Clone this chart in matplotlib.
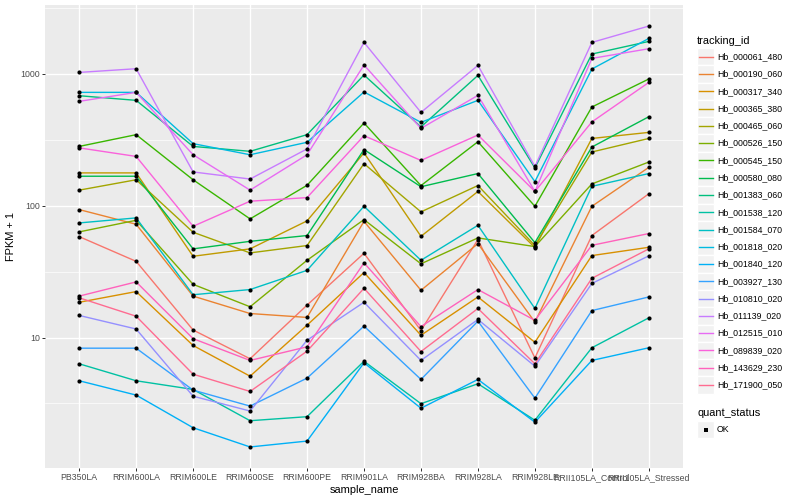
import numpy as np
import matplotlib
matplotlib.use("Agg")
import matplotlib.pyplot as plt
from matplotlib.patches import Rectangle

plt.rcParams['font.family'] = ['Liberation Sans', 'DejaVu Sans']

samples = ["PB350LA", "RRIM600LA", "RRIM600LE", "RRIM600SE", "RRIM600PE", "RRIM901LA",
           "RRIM928BA", "RRIM928LA", "RRIM928LE", "RRII105LA_Control", "RRII105LA_Stressed"]

tracking_ids = ["Hb_000061_480", "Hb_000190_060", "Hb_000317_340", "Hb_000365_380",
                "Hb_000465_060", "Hb_000526_150", "Hb_000545_150", "Hb_000580_080",
                "Hb_001383_060", "Hb_001538_120", "Hb_001584_070", "Hb_001818_020",
                "Hb_001840_120", "Hb_003927_130", "Hb_010810_020", "Hb_011139_020",
                "Hb_012515_010", "Hb_089839_020", "Hb_143629_230", "Hb_171900_050"]

# ggplot default hue palette for 20 levels
colors = ["#F8766D", "#EA8331", "#D89000", "#C09B00", "#A3A500", "#7CAE00", "#39B600",
          "#00BB4E", "#00BF7D", "#00C1A3", "#00BFC4", "#00BAE0", "#00B0F6", "#35A2FF",
          "#9590FF", "#C77CFF", "#E76BF3", "#FA62DB", "#FF62BC", "#FF6C91"]

# FPKM + 1, one list per gene, in sample order
hb_000061_480 = [58.2, 37.8, 11.4, 6.9, 17.6, 43.5, 11.3, 55.3, 7.0, 59.3, 123]
hb_000190_060 = [93.3, 72.2, 20.6, 15.2, 14.2, 76.0, 22.8, 51.5, 13.1, 98.8, 195]
hb_000317_340 = [18.5, 22.3, 8.7, 5.09, 12.4, 31.1, 10.4, 20.3, 9.2, 41.8, 48.3]
hb_000365_380 = [177, 177, 41.3, 47.0, 76.6, 251, 58.5, 128, 48.1, 323, 359]
hb_000465_060 = [131, 157, 62.8, 43.8, 49.8, 208, 89.6, 142, 49.8, 255, 323]
hb_000526_150 = [63.2, 77.4, 25.3, 17.1, 38.5, 78.3, 36.2, 56.9, 48.9, 146, 214]
hb_000545_150 = [281, 345, 157, 79.3, 142.5, 423, 141.8, 305, 98.8, 559, 912]
hb_000580_080 = [167, 167, 47.0, 53.6, 59.3, 266, 139, 175, 52.4, 278, 472]
hb_001383_060 = [681, 628, 281, 258, 345, 978, 395, 971, 193, 1410, 1757]
hb_001538_120 = [6.32, 4.70, 4.04, 2.34, 2.51, 6.61, 3.15, 4.46, 2.36, 8.36, 14.1]
hb_001584_070 = [73.9, 80.7, 21.1, 23.1, 32.3, 98.8, 38.5, 70.9, 16.6, 140, 175]
hb_001818_020 = [722, 722, 295, 243, 302, 727, 428, 628, 152, 1085, 1851]
hb_001840_120 = [4.70, 3.66, 2.07, 1.48, 1.64, 6.43, 2.91, 4.81, 2.28, 6.7, 8.36]
hb_003927_130 = [8.3, 8.3, 3.99, 3.02, 4.92, 12.2, 4.81, 13.3, 3.47, 16.0, 20.3]
hb_010810_020 = [14.7, 11.6, 3.59, 2.77, 9.54, 18.5, 6.7, 13.7, 6.06, 25.7, 41.6]
hb_011139_020 = [1023, 1091, 180, 159, 269, 1727, 509, 1156, 198, 1727, 2298]
hb_012515_010 = [617, 722, 243, 131, 243, 1164, 385, 685, 128, 1306, 1547]
hb_089839_020 = [274, 236, 69.7, 108, 115, 339, 220, 343, 128, 431, 859]
hb_143629_230 = [20.6, 26.4, 9.8, 6.7, 8.5, 36.8, 12.1, 23.1, 13.5, 50.0, 61.4]
hb_171900_050 = [20.0, 14.5, 5.27, 3.90, 7.88, 23.6, 7.83, 16.6, 6.32, 28.1, 47.0]

fpkm = [hb_000061_480, hb_000190_060, hb_000317_340, hb_000365_380, hb_000465_060,
        hb_000526_150, hb_000545_150, hb_000580_080, hb_001383_060, hb_001538_120,
        hb_001584_070, hb_001818_020, hb_001840_120, hb_003927_130, hb_010810_020,
        hb_011139_020, hb_012515_010, hb_089839_020, hb_143629_230, hb_171900_050]

quant_status = ["OK"]

W, H = 800, 500
px = 72.0 / 100  # ggplot px sizes -> points at dpi 100

fig = plt.figure(figsize=(8, 5), dpi=100)
ax = fig.add_axes([45 / W, 32 / H, 638 / W, 463 / H])
ax.set_facecolor("#EBEBEB")
for s in ax.spines.values():
    s.set_visible(False)

xs = np.arange(len(samples))
for vals, col in zip(fpkm, colors):
    ax.plot(xs, vals, color=col, lw=1.0, zorder=3)
for vals in fpkm:
    ax.plot(xs, vals, 'o', color="black", ms=3.0, mew=0, zorder=4)

ax.set_yscale('log')
allv = np.concatenate([np.array(v, float) for v in fpkm])
lo, hi = np.log10(allv.min()), np.log10(allv.max())
pad = 0.05 * (hi - lo)
ax.set_ylim(10 ** (lo - pad), 10 ** (hi + pad))
ax.set_xlim(-0.6, len(samples) - 0.4)

ax.set_yticks([10, 100, 1000])
ax.set_yticklabels(["10", "100", "1000"])
ax.set_yticks([10 ** 0.5, 10 ** 1.5, 10 ** 2.5, 10 ** 3.5], minor=True)
ax.yaxis.set_minor_formatter(matplotlib.ticker.NullFormatter())
ax.set_xticks(xs)
ax.set_xticklabels(samples)

ax.grid(which='major', color='white', lw=1.0)
ax.grid(which='minor', axis='y', color='white', lw=0.5)
ax.set_axisbelow(True)
ax.tick_params(which='major', length=2.75 * px, width=1.0 * px, color="#333333",
               labelsize=8.8 * px, labelcolor="#4D4D4D", pad=2.2 * px)
ax.tick_params(which='minor', length=0)

ax.set_xlabel("sample_name", fontsize=11 * px, labelpad=2.0)
ax.set_ylabel("FPKM + 1", fontsize=11 * px, labelpad=3.0)

# legend, drawn in pixel coordinates on an overlay
lax = fig.add_axes([0, 0, 1, 1], zorder=-1)
lax.set_xlim(0, W)
lax.set_ylim(H, 0)
lax.axis('off')

key = 17.28
kx = 697
lax.text(kx, 40.7, "tracking_id", fontsize=11 * px, va='center', ha='left')
y0 = 56.7
for i, (name, col) in enumerate(zip(tracking_ids, colors)):
    yc = y0 + i * key
    lax.add_patch(Rectangle((kx, yc - key / 2), key, key, facecolor="#F2F2F2",
                            edgecolor="white", lw=1.0))
    lax.plot([kx + 1.7, kx + key - 1.7], [yc, yc], color=col, lw=1.0)
    lax.text(kx + key + 2.7, yc, name, fontsize=8.8 * px, va='center', ha='left')

lax.text(kx, 412.7, "quant_status", fontsize=11 * px, va='center', ha='left')
for j, st in enumerate(quant_status):
    yc = 429.5 + j * key
    lax.add_patch(Rectangle((kx, yc - key / 2), key, key, facecolor="#F2F2F2",
                            edgecolor="white", lw=1.0))
    lax.plot([kx + key / 2], [yc], 's', color="black", ms=2.6, mew=0)
    lax.text(kx + key + 2.7, yc, st, fontsize=8.8 * px, va='center', ha='left')

fig.savefig("out.png", dpi=100)
